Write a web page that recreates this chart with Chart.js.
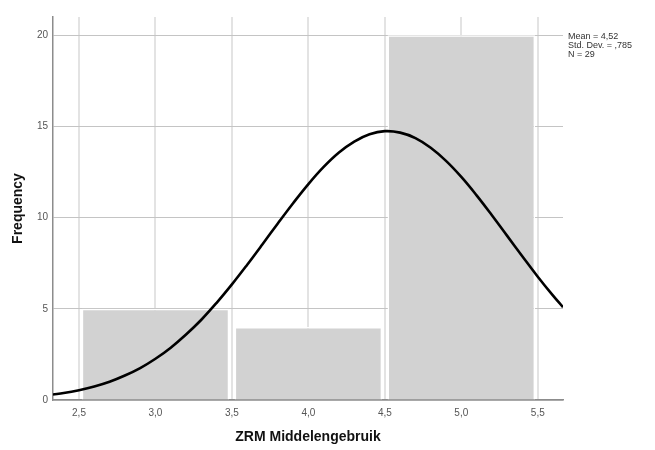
<!DOCTYPE html>
<html>
<head>
<meta charset="utf-8">
<script src="https://cdn.jsdelivr.net/npm/chart.js@4"></script>
<style>
  html, body { margin: 0; padding: 0; background: #fff; }
  #wrap { width: 655px; height: 450px; }
</style>
</head>
<body>
<div id="wrap"><canvas id="histChart" width="655" height="450"></canvas></div>
<script>
// histogram bins (centre of each bin) and counts
const binCenters = [3.0, 4.0, 5.0];
const frequencies = [5, 4, 20];

// normal curve
const curveX = [2.33, 2.4, 2.5, 2.6, 2.7, 2.8, 2.9, 3.0, 3.1, 3.2, 3.3, 3.4, 3.5, 3.6, 3.7, 3.8, 3.9, 4.0,
  4.1, 4.2, 4.3, 4.4, 4.5, 4.6, 4.7, 4.8, 4.9, 5.0, 5.1, 5.2, 5.3, 5.4, 5.5, 5.6, 5.665];
const curveY = [0.30, 0.38, 0.54, 0.74, 1.00, 1.34, 1.75, 2.26, 2.87, 3.59, 4.40, 5.33, 6.34, 7.42, 8.54, 9.68, 10.79, 11.84,
  12.78, 13.57, 14.17, 14.57, 14.74, 14.66, 14.36, 13.83, 13.11, 12.23, 11.22, 10.13, 9.00, 7.87, 6.76, 5.72, 5.09];

const xTicks = [2.5, 3.0, 3.5, 4.0, 4.5, 5.0, 5.5];
const yTicks = [0, 5, 10, 15, 20];
const statsLines = ["Mean = 4,52", "Std. Dev. = ,785", "N = 29"];

const statsBox = {
    id: "statsBox",
    afterDraw: (chart) => {
        const ctx = chart.ctx;
        ctx.save();
        ctx.font = "9px Arial, 'Liberation Sans', sans-serif";
        ctx.fillStyle = "#333";
        ctx.textBaseline = "middle";
        ctx.textAlign = "left";
        statsLines.forEach((t, i) => {
            ctx.fillText(t, chart.chartArea.right + 5, 37 + i * 9);
        });
        ctx.restore();
    },
};

const curvePoints = curveX.map((x, i) => ({ x: x, y: curveY[i] }));
const barPoints = binCenters.map((x, i) => ({ x: x, y: frequencies[i] }));

new Chart(document.getElementById("histChart"), {
    type: "bar",
    data: {
        datasets: [
            {
                type: "line",
                data: curvePoints,
                borderColor: "#000",
                borderWidth: 2.6,
                pointRadius: 0,
                tension: 0.4,
                fill: false,
                order: 0,
            },
            {
                type: "bar",
                data: barPoints,
                backgroundColor: "#d2d2d2",
                borderColor: "#fff",
                borderWidth: 1.5,
                borderSkipped: "bottom",
                categoryPercentage: 1,
                // ticks are every half bin, so the sample size is half a bin wide
                barPercentage: 1.93,
                order: 1,
            },
        ],
    },
    options: {
        responsive: false,
        animation: false,
        layout: { padding: { top: 17, right: 92, left: 0, bottom: 0 } },
        plugins: {
            legend: { display: false },
            tooltip: { enabled: false },
        },
        scales: {
            x: {
                type: "linear",
                min: 2.33,
                max: 5.665,
                offset: false,
                afterBuildTicks: (s) => { s.ticks = xTicks.map((v) => ({ value: v })); },
                afterFit: (s) => { s.height = 50; },
                ticks: {
                    color: "#555",
                    font: { size: 10, family: "Arial, 'Liberation Sans', sans-serif" },
                    padding: 7,
                    maxRotation: 0,
                    callback: (v) => v.toFixed(1).replace(".", ","),
                },
                grid: { color: "#e3e3e3", lineWidth: 2, drawTicks: false, offset: false },
                border: { color: "#8c8c8c", width: 1.5 },
                title: {
                    display: true,
                    text: "ZRM Middelengebruik",
                    color: "#111",
                    font: { size: 14, weight: "bold", family: "Arial, 'Liberation Sans', sans-serif" },
                    padding: { top: 0, bottom: 4 },
                },
            },
            y: {
                min: 0,
                max: 21,
                afterBuildTicks: (s) => { s.ticks = yTicks.map((v) => ({ value: v })); },
                afterFit: (s) => { s.width = 53; },
                ticks: {
                    color: "#555",
                    font: { size: 10, family: "Arial, 'Liberation Sans', sans-serif" },
                    padding: 5,
                },
                grid: { color: "#c4c4c4", lineWidth: 1, drawTicks: false },
                border: { color: "#8c8c8c", width: 1.5 },
                title: {
                    display: true,
                    text: "Frequency",
                    color: "#111",
                    font: { size: 14, weight: "bold", family: "Arial, 'Liberation Sans', sans-serif" },
                    padding: { top: 10, bottom: 0 },
                },
            },
        },
    },
    plugins: [statsBox],
});
</script>
</body>
</html>
